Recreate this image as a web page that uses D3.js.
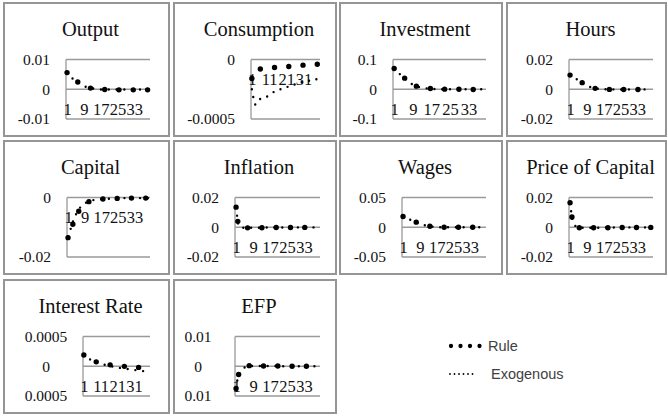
<!DOCTYPE html>
<html>
<head>
<meta charset="utf-8">
<script src="https://cdn.jsdelivr.net/npm/d3@7"></script>
<style>
  html, body { margin: 0; padding: 0; background: #fff; }
  svg { display: block; }
</style>
</head>
<body>
<svg id="chart" width="668" height="416"></svg>
<script>
// Response periods (quarters after the shock)
const periods = [1,2,3,4,5,6,7,8,9,10,11,12,13,14,15,16,17,18,19,20,
                 21,22,23,24,25,26,27,28,29,30,31,32,33,34,35,36,37,38,39,40];

const titles = ["Output", "Consumption", "Investment", "Hours", "Capital",
                "Inflation", "Wages", "Price of Capital", "Interest Rate", "EFP"];

const seriesNames = ["Rule", "Exogenous"];

// Impulse responses, one pair of series per variable
const outputRule = [0.0056,0.0048,0.0041,0.0035,0.0030,0.0025,0.0020,0.0015,0.0011,0.0008,
  0.0006,0.0004,0.0003,0.0002,0.0001,0.0000,-0.0001,-0.0001,-0.0001,-0.0002,
  -0.0002,-0.0002,-0.0002,-0.0002,-0.0002,-0.0002,-0.0002,-0.0002,-0.0002,-0.0002,
  -0.0002,-0.0002,-0.0002,-0.0002,-0.0002,-0.0002,-0.0002,-0.0002,-0.0002,-0.0002];
const outputExo = [0.0055,0.0047,0.0040,0.0034,0.0029,0.0024,0.0019,0.0015,0.0011,0.0008,
  0.0006,0.0004,0.0003,0.0002,0.0001,0.0000,-0.0001,-0.0001,-0.0001,-0.0001,
  -0.0001,-0.0001,-0.0001,-0.0001,-0.0001,-0.0001,-0.0001,-0.0001,-0.0001,-0.0001,
  -0.0001,-0.0001,-0.0001,-0.0001,-0.0001,-0.0001,-0.0001,-0.0001,-0.0001,-0.0001];

const consRule = [-0.00016,-0.00011,-0.00009,-0.000085,-0.000082,-0.00008,-0.000078,-0.000076,-0.000075,-0.000074,
  -0.000072,-0.00007,-0.000069,-0.000068,-0.000067,-0.000066,-0.000066,-0.000065,-0.000065,-0.000064,
  -0.000062,-0.00006,-0.000058,-0.000057,-0.000055,-0.000053,-0.000052,-0.00005,-0.000049,-0.000048,
  -0.000047,-0.000046,-0.000045,-0.000044,-0.000043,-0.000042,-0.000042,-0.000041,-0.00004,-0.00004];
const consExo = [-0.00025,-0.00033,-0.00038,-0.00036,-0.00034,-0.00033,-0.00033,-0.00032,-0.00032,-0.00031,
  -0.0003,-0.00029,-0.00028,-0.00027,-0.00026,-0.00026,-0.00025,-0.00025,-0.00024,-0.00024,
  -0.00023,-0.00023,-0.00022,-0.00022,-0.00021,-0.00021,-0.0002,-0.0002,-0.0002,-0.00019,
  -0.00019,-0.00018,-0.00018,-0.00018,-0.00017,-0.00017,-0.00017,-0.00017,-0.00016,-0.00016];

const invRule = [0.070,0.063,0.055,0.048,0.041,0.034,0.027,0.021,0.016,0.012,
  0.009,0.007,0.005,0.004,0.003,0.003,0.002,0.002,0.001,0.001,
  0.001,0.001,0.000,0.000,0.000,0.000,0.000,0.000,0.000,-0.001,
  -0.001,-0.001,-0.001,-0.001,-0.001,-0.001,-0.001,-0.001,-0.001,-0.001];
const invExo = [0.069,0.062,0.054,0.047,0.040,0.033,0.026,0.020,0.016,0.012,
  0.009,0.007,0.005,0.004,0.003,0.002,0.002,0.001,0.001,0.001,
  0.000,0.000,0.000,0.000,0.000,0.000,0.000,0.000,0.000,0.000,
  0.000,0.000,0.000,0.000,0.000,0.000,0.000,0.000,0.000,0.000];

const hoursRule = [0.0095,0.0088,0.0078,0.0070,0.0062,0.0052,0.0042,0.0033,0.0025,0.0018,
  0.0013,0.0009,0.0006,0.0004,0.0002,0.0001,0.0000,-0.0001,-0.0001,-0.0001,
  -0.0002,-0.0002,-0.0002,-0.0002,-0.0002,-0.0002,-0.0002,-0.0002,-0.0002,-0.0002,
  -0.0002,-0.0002,-0.0002,-0.0002,-0.0002,-0.0002,-0.0002,-0.0002,-0.0002,-0.0002];
const hoursExo = [0.0094,0.0087,0.0077,0.0069,0.0061,0.0051,0.0041,0.0032,0.0024,0.0018,
  0.0013,0.0009,0.0006,0.0004,0.0002,0.0001,0.0000,0.0000,-0.0001,-0.0001,
  -0.0001,-0.0001,-0.0001,-0.0001,-0.0001,-0.0001,-0.0001,-0.0001,-0.0001,-0.0001,
  -0.0001,-0.0001,-0.0001,-0.0001,-0.0001,-0.0001,-0.0001,-0.0001,-0.0001,-0.0001];

const capRule = [-0.0135,-0.0120,-0.0096,-0.0077,-0.0062,-0.0048,-0.0036,-0.0028,-0.0022,-0.0017,
  -0.0014,-0.0012,-0.0010,-0.0009,-0.0008,-0.0007,-0.0006,-0.0005,-0.0005,-0.0004,
  -0.0004,-0.0004,-0.0003,-0.0003,-0.0003,-0.0003,-0.0003,-0.0003,-0.0002,-0.0002,
  -0.0002,-0.0002,-0.0002,-0.0002,-0.0002,-0.0002,-0.0002,-0.0002,-0.0002,-0.0002];
const capExo = [-0.0130,-0.0112,-0.0088,-0.0069,-0.0054,-0.0042,-0.0032,-0.0025,-0.0020,-0.0016,
  -0.0013,-0.0011,-0.0009,-0.0008,-0.0007,-0.0006,-0.0005,-0.0005,-0.0004,-0.0004,
  -0.0004,-0.0003,-0.0003,-0.0003,-0.0003,-0.0003,-0.0002,-0.0002,-0.0002,-0.0002,
  -0.0002,-0.0002,-0.0002,-0.0002,-0.0002,-0.0002,-0.0002,-0.0002,-0.0002,-0.0002];

const inflRule = [0.0135,0.0018,-0.0003,-0.0004,-0.0004,-0.0004,-0.0004,-0.0004,-0.0004,-0.0004,
  -0.0004,-0.0004,-0.0003,-0.0003,-0.0003,-0.0003,-0.0003,-0.0003,-0.0003,-0.0002,
  -0.0002,-0.0002,-0.0002,-0.0002,-0.0002,-0.0002,-0.0002,-0.0002,-0.0002,-0.0002,
  -0.0002,-0.0002,-0.0001,-0.0001,-0.0001,-0.0001,-0.0001,-0.0001,-0.0001,-0.0001];
const inflExo = [0.0130,0.0020,-0.0002,-0.0003,-0.0003,-0.0003,-0.0003,-0.0003,-0.0003,-0.0003,
  -0.0003,-0.0003,-0.0003,-0.0003,-0.0002,-0.0002,-0.0002,-0.0002,-0.0002,-0.0002,
  -0.0002,-0.0002,-0.0002,-0.0002,-0.0001,-0.0001,-0.0001,-0.0001,-0.0001,-0.0001,
  -0.0001,-0.0001,-0.0001,-0.0001,-0.0001,-0.0001,-0.0001,-0.0001,-0.0001,-0.0001];

const wageRule = [0.0180,0.0165,0.0150,0.0135,0.0120,0.0105,0.0090,0.0075,0.0060,0.0048,
  0.0038,0.0030,0.0022,0.0016,0.0011,0.0007,0.0004,0.0002,0.0001,0.0000,
  -0.0001,-0.0001,-0.0001,-0.0001,-0.0001,-0.0001,-0.0001,-0.0001,-0.0001,-0.0001,
  -0.0001,-0.0001,-0.0001,-0.0001,-0.0001,-0.0001,-0.0001,-0.0001,-0.0001,-0.0001];
const wageExo = [0.0178,0.0163,0.0148,0.0133,0.0118,0.0103,0.0088,0.0073,0.0059,0.0047,
  0.0037,0.0029,0.0021,0.0015,0.0010,0.0006,0.0003,0.0001,0.0000,0.0000,
  -0.0001,-0.0001,-0.0001,-0.0001,-0.0001,-0.0001,-0.0001,-0.0001,-0.0001,-0.0001,
  -0.0001,-0.0001,-0.0001,-0.0001,-0.0001,-0.0001,-0.0001,-0.0001,-0.0001,-0.0001];

const pkRule = [0.0165,0.0060,0.0018,0.0002,-0.0003,-0.0004,-0.0004,-0.0004,-0.0004,-0.0004,
  -0.0004,-0.0003,-0.0003,-0.0003,-0.0003,-0.0003,-0.0003,-0.0003,-0.0003,-0.0003,
  -0.0003,-0.0003,-0.0003,-0.0003,-0.0003,-0.0002,-0.0002,-0.0002,-0.0002,-0.0002,
  -0.0002,-0.0002,-0.0002,-0.0002,-0.0002,-0.0001,-0.0001,-0.0001,-0.0001,-0.0001];
const pkExo = [0.0160,0.0058,0.0017,0.0002,-0.0002,-0.0003,-0.0003,-0.0003,-0.0003,-0.0003,
  -0.0003,-0.0003,-0.0003,-0.0003,-0.0003,-0.0002,-0.0002,-0.0002,-0.0002,-0.0002,
  -0.0002,-0.0002,-0.0002,-0.0002,-0.0002,-0.0002,-0.0002,-0.0001,-0.0001,-0.0001,
  -0.0001,-0.0001,-0.0001,-0.0001,-0.0001,-0.0001,-0.0001,-0.0001,-0.0001,-0.0001];

const irRule = [0.00019,0.000185,0.00017,0.00015,0.00013,0.000115,0.0001,0.00008,0.000065,0.000055,
  0.00005,0.000045,0.00004,0.000035,0.00003,0.000026,0.000023,0.00002,0.000016,0.000013,
  0.00001,0.000007,0.000004,0.000001,-0.000001,-0.000003,-0.000005,-0.000007,-0.000009,-0.000011,
  -0.000013,-0.000016,-0.000018,-0.00002,-0.000022,-0.000024,-0.000026,-0.000027,-0.000029,-0.00003];
const irExo = [0.00019,0.00018,0.00016,0.00013,0.00011,0.000095,0.00008,0.000068,0.000058,0.000049,
  0.000042,0.000035,0.000028,0.000021,0.000014,0.000008,0.000002,-0.000004,-0.00001,-0.000016,
  -0.00002,-0.000025,-0.00003,-0.000034,-0.000038,-0.000042,-0.000046,-0.00005,-0.000054,-0.000058,
  -0.000062,-0.000066,-0.00007,-0.000074,-0.000077,-0.00008,-0.000083,-0.000086,-0.000089,-0.000092];

const efpRule = [-0.0075,-0.0030,-0.0020,-0.0012,-0.0005,0.0000,0.0002,0.0002,0.0002,0.0002,
  0.0001,0.0001,0.0001,0.0001,0.0001,0.0001,0.0001,0.0001,0.0001,0.0001,
  0.0001,0.0001,0.0001,0.0001,0.0001,0.0000,0.0000,0.0000,0.0000,0.0000,
  0.0000,0.0000,0.0000,0.0000,0.0000,0.0000,0.0000,0.0000,0.0000,0.0000];
const efpExo = [-0.0074,-0.0029,-0.0019,-0.0011,-0.0004,0.0000,0.0001,0.0001,0.0001,0.0001,
  0.0001,0.0001,0.0001,0.0001,0.0001,0.0001,0.0001,0.0001,0.0001,0.0001,
  0.0000,0.0000,0.0000,0.0000,0.0000,0.0000,0.0000,0.0000,0.0000,0.0000,
  0.0000,0.0000,0.0000,0.0000,0.0000,0.0000,0.0000,0.0000,0.0000,0.0000];

// Value-axis range, gridline values and their printed labels
const yDomains = [[-0.01,0.01],[-0.0005,0],[-0.1,0.1],[-0.02,0.02],[-0.02,0],
                  [-0.02,0.02],[-0.05,0.05],[-0.02,0.02],[-0.0005,0.0005],[-0.01,0.01]];
const yTickValues = [[0.01,0,-0.01],[0,-0.0005],[0.1,0,-0.1],[0.02,0,-0.02],[0,-0.02],
                     [0.02,0,-0.02],[0.05,0,-0.05],[0.02,0,-0.02],[0.0005,0,-0.0005],[0.01,0,-0.01]];
const yTickLabels = [["0.01","0","-0.01"],["0","-0.0005"],["0.1","0","-0.1"],["0.02","0","-0.02"],["0","-0.02"],
                     ["0.02","0","-0.02"],["0.05","0","-0.05"],["0.02","0","-0.02"],["0.0005","0","0.0005"],["0.01","0","0.01"]];
// Category labels shown along the horizontal axis
const xTicksEvery8 = [1, 9, 17, 25, 33];
const xTicksEvery10 = [1, 11, 21, 31];
const xTickSets = [xTicksEvery8, xTicksEvery10, xTicksEvery8, xTicksEvery8, xTicksEvery8,
                   xTicksEvery8, xTicksEvery8, xTicksEvery8, xTicksEvery10, xTicksEvery8];

const ruleSeries = [outputRule, consRule, invRule, hoursRule, capRule, inflRule, wageRule, pkRule, irRule, efpRule];
const exoSeries  = [outputExo, consExo, invExo, hoursExo, capExo, inflExo, wageExo, pkExo, irExo, efpExo];

// ---- layout ----
const colLeft  = [4, 174, 340, 507];
const colRight = [169, 336, 502, 666];
const rowTop   = [3, 141, 280];
const boxH = 133;
const plotInset = [62, 77, 53, 62, 63, 61, 62, 62, 79, 61];
const centeredLabels = [false, false, false, false, false, false, false, false, true, true];

const serif = '"Liberation Serif", "Times New Roman", serif';
const svg = d3.select("#chart");

const panels = titles.map((t, i) => ({
  title: t, rule: ruleSeries[i], exo: exoSeries[i],
  domain: yDomains[i], ticks: yTickValues[i], labels: yTickLabels[i], xTicks: xTickSets[i],
  col: i % 4, row: Math.floor(i / 4), inset: plotInset[i], centered: centeredLabels[i]
}));

panels.forEach(p => {
  const bx0 = colLeft[p.col], bx1 = colRight[p.col];
  const by0 = rowTop[p.row], by1 = by0 + boxH;
  const g = svg.append("g");

  g.append("rect")
    .attr("x", bx0).attr("y", by0)
    .attr("width", bx1 - bx0).attr("height", by1 - by0)
    .attr("fill", "#fff").attr("stroke", "#959595").attr("stroke-width", 2);

  g.append("text")
    .attr("x", (bx0 + bx1) / 2 + 4).attr("y", by0 + 33)
    .attr("text-anchor", "middle")
    .style("font-family", serif).style("font-size", "20.5px").attr("fill", "#111")
    .text(p.title);

  const L = bx0 + p.inset, R = bx0 + 146;
  const T = by0 + 56.5, B = T + 59.5;

  const x = d3.scalePoint().domain(periods).range([L, R]).padding(0.5);
  const y = d3.scaleLinear().domain(p.domain).range([B, T]);

  // horizontal gridlines (the zero line doubles as the category axis)
  g.selectAll("line.grid").data(p.ticks).join("line")
    .attr("class", "grid")
    .attr("x1", L).attr("x2", R)
    .attr("y1", d => y(d)).attr("y2", d => y(d))
    .attr("stroke", "#9a9a9a").attr("stroke-width", 1.3);

  // value axis line
  g.append("line")
    .attr("x1", L).attr("x2", L).attr("y1", T).attr("y2", B)
    .attr("stroke", "#9a9a9a").attr("stroke-width", 1.3);

  // value axis labels
  const yAxis = g.append("g")
    .attr("transform", `translate(${L},0)`)
    .call(d3.axisLeft(y).tickValues(p.ticks).tickFormat((d, i) => p.labels[i])
      .tickSize(0).tickPadding(16));
  yAxis.select(".domain").remove();
  yAxis.selectAll("text")
    .style("font-family", serif).style("font-size", "15.5px").attr("fill", "#111");
  if (p.centered) {
    yAxis.selectAll("text").attr("text-anchor", "middle").attr("x", -37);
  }

  // category labels sit just under the zero line
  const xAxis = g.append("g")
    .attr("transform", `translate(0,${y(0)})`)
    .call(d3.axisBottom(x).tickValues(p.xTicks).tickSize(0).tickPadding(14));
  xAxis.select(".domain").remove();
  xAxis.selectAll("text")
    .style("font-family", serif).style("font-size", "16.5px").attr("fill", "#111");

  const line = d3.line().x((d, i) => x(periods[i])).y(d => y(d));

  g.append("path")
    .attr("d", line(p.exo))
    .attr("fill", "none").attr("stroke", "#000").attr("stroke-width", 2.4)
    .attr("stroke-linecap", "round").attr("stroke-dasharray", "0 7.8");

  g.append("path")
    .attr("d", line(p.rule))
    .attr("fill", "none").attr("stroke", "#000").attr("stroke-width", 5.4)
    .attr("stroke-linecap", "round").attr("stroke-dasharray", "0 14.3");
});

// ---- legend ----
const legend = svg.append("g");
const legendStyles = [
  { width: 4.3, dash: "0 9.5", x0: 451, x1: 480, y: 346, tx: 488 },
  { width: 1.8, dash: "0 4.5", x0: 450, x1: 477, y: 374, tx: 491 }
];
seriesNames.forEach((name, i) => {
  const s = legendStyles[i];
  legend.append("path")
    .attr("d", d3.line()([[s.x0, s.y], [s.x1, s.y]]))
    .attr("fill", "none").attr("stroke", "#000").attr("stroke-width", s.width)
    .attr("stroke-linecap", "round").attr("stroke-dasharray", s.dash);
  legend.append("text")
    .attr("x", s.tx).attr("y", s.y).attr("dy", "0.35em")
    .style("font-family", '"Liberation Sans", Arial, sans-serif').style("font-size", "14.5px")
    .attr("fill", "#404040")
    .text(name);
});
</script>
</body>
</html>
